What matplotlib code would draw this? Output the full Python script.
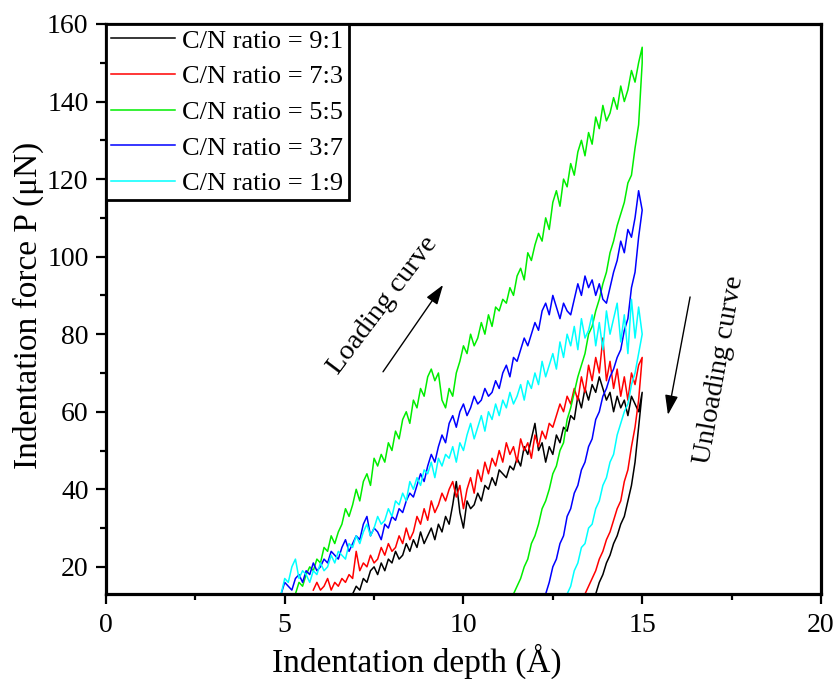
import numpy as np
import matplotlib
matplotlib.use('Agg')
import matplotlib.pyplot as plt
from matplotlib.ticker import MultipleLocator

plt.rcParams['font.family'] = ['Liberation Serif', 'DejaVu Serif']

labels = ['C/N ratio = 9:1', 'C/N ratio = 7:3', 'C/N ratio = 5:5',
          'C/N ratio = 3:7', 'C/N ratio = 1:9']
colors = ['black', 'red', '#00ee00', 'blue', 'cyan']

# depth (A) where loading starts / where unloading ends
load_start = [6.9, 5.8, 5.3, 4.9, 4.9]
unload_end = [13.7, 13.4, 11.4, 12.3, 12.9]

# Loading branches: force (uN), evenly spaced from load_start to 15 A
load_91 = [13, 15, 14, 17, 16, 19, 20, 18, 21, 19, 22, 21, 24, 22, 23, 26, 24, 27, 25,
           29, 26, 28, 30, 27, 31, 29, 33, 31, 36, 42, 34, 30, 37, 35, 36, 39, 37, 41,
           40, 43, 41, 45, 44, 43, 46, 45, 48, 46, 51, 49, 53, 57, 50, 52, 47, 51, 49,
           54, 52, 56, 55, 59, 58, 64, 61, 66, 63, 67, 65, 69, 66, 63, 65, 60, 64, 61,
           63, 59, 64, 62, 60, 65]
load_73 = [14, 16, 14, 15, 17, 14, 16, 15, 17, 16, 18, 17, 24, 19, 21, 20, 23, 21, 22,
           25, 23, 26, 24, 25, 28, 26, 30, 27, 29, 33, 31, 35, 32, 37, 34, 36, 39, 37,
           40, 42, 38, 41, 35, 40, 43, 39, 45, 42, 47, 44, 48, 46, 50, 47, 52, 49, 51,
           47, 53, 50, 52, 48, 54, 51, 55, 53, 57, 56, 59, 62, 60, 64, 62, 66, 63, 69,
           65, 72, 68, 74, 70, 79, 68, 73, 66, 71, 64, 69, 63, 70, 67, 72, 74]
load_55 = [13, 16, 15, 18, 20, 19, 22, 21, 25, 24, 28, 26, 29, 31, 35, 33, 36, 40, 37,
           42, 44, 41, 48, 46, 49, 47, 52, 50, 55, 53, 58, 60, 57, 63, 61, 66, 64, 69,
           71, 68, 70, 63, 61, 66, 64, 70, 73, 77, 75, 80, 77, 79, 83, 80, 85, 82, 87,
           86, 89, 88, 92, 90, 95, 97, 94, 101, 99, 103, 106, 104, 110, 107, 114, 117,
           113, 120, 118, 124, 121, 127, 130, 126, 132, 129, 136, 133, 139, 135, 137,
           141, 138, 144, 140, 143, 148, 145, 150, 154]
load_37 = [13, 16, 15, 14, 17, 18, 16, 19, 18, 21, 19, 20, 22, 21, 24, 23, 22, 25, 27,
           24, 26, 28, 27, 31, 33, 28, 30, 29, 27, 31, 30, 33, 32, 35, 34, 37, 39, 38,
           41, 44, 42, 46, 49, 47, 51, 54, 52, 57, 59, 56, 60, 62, 59, 61, 64, 62, 63,
           66, 64, 65, 68, 66, 70, 72, 69, 74, 73, 76, 79, 77, 80, 83, 81, 86, 88, 85,
           90, 87, 84, 88, 86, 85, 89, 93, 90, 95, 92, 94, 90, 93, 89, 88, 92, 96, 99,
           104, 101, 107, 105, 110, 117, 112]
load_19 = [13, 17, 16, 20, 22, 17, 19, 18, 16, 19, 18, 21, 19, 20, 23, 21, 24, 23, 22,
           26, 25, 28, 26, 29, 31, 28, 30, 33, 31, 32, 35, 33, 37, 36, 39, 37, 42, 40,
           43, 41, 45, 44, 47, 43, 48, 46, 49, 48, 51, 47, 52, 50, 54, 57, 53, 56, 59,
           55, 60, 58, 62, 59, 63, 61, 65, 62, 64, 67, 63, 68, 66, 70, 67, 73, 69, 72,
           75, 71, 78, 74, 80, 77, 82, 76, 84, 79, 81, 85, 77, 83, 76, 86, 80, 84, 88,
           78, 85, 75, 89, 79, 87, 80]

# Unloading branches: force, evenly spaced from 15 A back to unload_end
unload_91 = [65, 56, 47, 41, 37, 33, 31, 28, 26, 23, 21, 18, 16, 13]
unload_73 = [74, 63, 56, 51, 45, 42, 37, 35, 32, 29, 27, 24, 22, 19, 17, 15, 13]
unload_55 = [150, 134, 128, 121, 119, 114, 111, 108, 104, 101, 96, 93, 89, 86, 82, 80,
             75, 72, 69, 65, 61, 58, 52, 50, 46, 44, 40, 37, 35, 31, 28, 26, 22, 20,
             17, 15, 13]
unload_37 = [112, 105, 96, 92, 84, 81, 76, 74, 71, 69, 66, 64, 60, 58, 53, 51, 47, 45,
             41, 39, 35, 33, 28, 26, 22, 20, 16, 13]
unload_19 = [80, 75, 70, 67, 62, 60, 57, 54, 49, 47, 43, 41, 37, 35, 31, 30, 26, 25,
             21, 19, 15, 13]

loads = [load_91, load_73, load_55, load_37, load_19]
unloads = [unload_91, unload_73, unload_55, unload_37, unload_19]

fig = plt.figure(figsize=(8.37, 6.79), dpi=100)
ax = fig.add_axes([0.1266, 0.1252, 0.8542, 0.8395])

for lab, col, x0, x1, ld, ul in zip(labels, colors, load_start, unload_end, loads, unloads):
    depth = np.concatenate([np.linspace(x0, 15.0, len(ld)), np.linspace(15.0, x1, len(ul))])
    force = np.concatenate([ld, ul])
    ax.plot(depth, force, color=col, lw=1.1, label=lab)

ax.set_xlim(0, 20)
ax.set_ylim(13, 160)
ax.xaxis.set_major_locator(MultipleLocator(5))
ax.xaxis.set_minor_locator(MultipleLocator(2.5))
ax.yaxis.set_major_locator(MultipleLocator(20))
ax.yaxis.set_minor_locator(MultipleLocator(10))
ax.tick_params(which='both', direction='out', width=1.6, labelsize=20,
               top=False, right=False)
ax.tick_params(which='major', length=7.5)
ax.tick_params(which='minor', length=4)
ax.tick_params(axis='x', pad=6)
ax.tick_params(axis='y', pad=5)
for sp in ax.spines.values():
    sp.set_linewidth(2.3)

ax.set_xlabel('Indentation depth (Å)', fontsize=24)
ax.set_ylabel('Indentation force P (μN)', fontsize=24)
ax.xaxis.set_label_coords(0.435, -0.137)
ax.xaxis.label.set_va('baseline')
ax.yaxis.set_label_coords(-0.0965, 0.507)
ax.yaxis.label.set_va('baseline')

# Annotations with arrows
arrow = dict(arrowstyle='-|>,head_length=0.6,head_width=0.2', color='black',
             lw=1, mutation_scale=20, shrinkA=0, shrinkB=0)
ax.text(7.75, 87.5, 'Loading curve', fontsize=20.5, rotation=53,
        ha='center', va='center', rotation_mode='anchor')
ax.annotate('', xy=(9.43, 92.7), xytext=(7.75, 70.3), arrowprops=arrow)
ax.text(17.15, 70.8, 'Unloading curve', fontsize=20.5, rotation=80,
        ha='center', va='center', rotation_mode='anchor')
ax.annotate('', xy=(15.72, 59.2), xytext=(16.34, 89.6), arrowprops=arrow)

leg = ax.legend(loc='upper left', bbox_to_anchor=(0, 1), borderaxespad=0,
                fontsize=19, frameon=True, fancybox=False, framealpha=1,
                handlelength=2.4, handletextpad=0.3, borderpad=0.2,
                labelspacing=0.46)
leg.get_frame().set_edgecolor('black')
leg.get_frame().set_linewidth(2.0)

fig.savefig('out.png', dpi=100)
